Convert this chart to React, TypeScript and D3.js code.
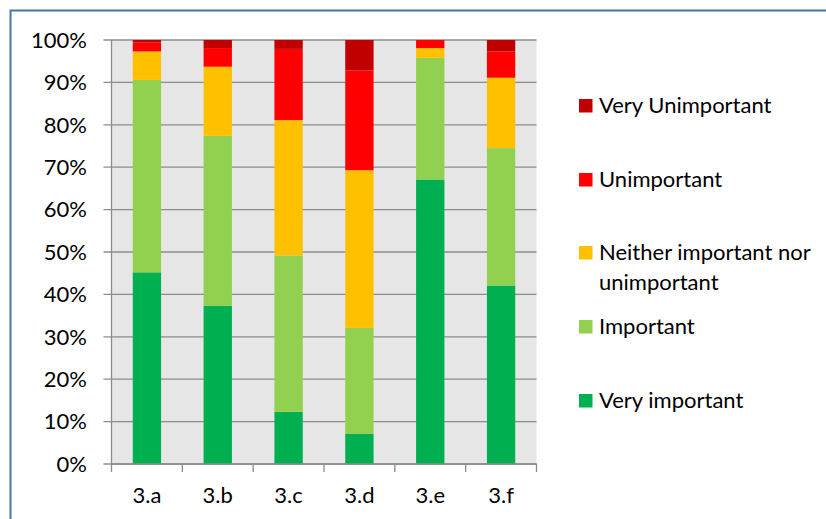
import React from "react";
import * as d3 from "d3";

const categories = ["3.a", "3.b", "3.c", "3.d", "3.e", "3.f"];
const seriesNames = [
  "Very important",
  "Important",
  "Neither important nor unimportant",
  "Unimportant",
  "Very Unimportant",
];
const veryImportant = [45.2, 37.3, 12.3, 7.1, 67.1, 42.1];
const important = [45.4, 40.1, 36.9, 25.0, 28.7, 32.4];
const neither = [6.7, 16.3, 31.9, 37.2, 2.3, 16.6];
const unimportant = [2.1, 4.4, 16.8, 23.5, 1.9, 6.2];
const veryUnimportant = [0.6, 1.9, 2.1, 7.2, 0.0, 2.7];
const colors = ["#00B050", "#92D050", "#FFC000", "#FF0000", "#C00000"];
const yTicks = [0, 10, 20, 30, 40, 50, 60, 70, 80, 90, 100];

const W = 826;
const H = 519;
const plot = { left: 111.5, right: 536.5, top: 40, bottom: 464 };
const FONT = "Lato, 'Open Sans', sans-serif";
const FS = 22;

export default function App() {
  const seriesValues = [veryImportant, important, neither, unimportant, veryUnimportant];
  const rows = categories.map((c, i) => {
    const r: any = { cat: c };
    seriesNames.forEach((s, k) => (r[s] = seriesValues[k][i]));
    return r;
  });
  const stack = d3.stack<any>().keys(seriesNames)(rows);

  const x = d3
    .scaleBand<string>()
    .domain(categories)
    .range([plot.left, plot.right])
    .paddingInner(0.6)
    .paddingOuter(0.3);
  const y = d3.scaleLinear().domain([0, 100]).range([plot.bottom, plot.top]);
  const step = x.step();
  const catEdges = d3.range(categories.length + 1).map((i) => plot.left + i * step);

  const legendOrder = [4, 3, 2, 1, 0];
  const legendY = [113, 187, 260, 334, 408];

  return (
    <svg
      width={W}
      height={H}
      style={{ position: "absolute", left: 0, top: 0, background: "#fff" }}
      fontFamily={FONT}
    >
      <rect x={0} y={0} width={W} height={H} fill="#fff" />
      <rect x={plot.left} y={plot.top} width={plot.right - plot.left} height={plot.bottom - plot.top} fill="#E6E6E6" />
      {yTicks.map((t) => (
        <line key={"g" + t} x1={plot.left - 8} x2={plot.right} y1={y(t)} y2={y(t)} stroke="#8C8C8C" strokeWidth={1.3} />
      ))}
      {stack.map((layer, k) => (
        <g key={layer.key} fill={colors[k]}>
          {layer.map((d, i) => (
            <rect
              key={i}
              x={x(categories[i])!}
              y={y(d[1])}
              width={x.bandwidth()}
              height={Math.max(0, y(d[0]) - y(d[1]))}
            />
          ))}
        </g>
      ))}
      <line x1={plot.left} x2={plot.left} y1={plot.top} y2={plot.bottom} stroke="#8C8C8C" strokeWidth={1.3} />
      <line x1={plot.left} x2={plot.right} y1={plot.bottom} y2={plot.bottom} stroke="#8C8C8C" strokeWidth={1.3} />
      {catEdges.map((e, i) => (
        <line key={"ct" + i} x1={e} x2={e} y1={plot.bottom} y2={plot.bottom + 8} stroke="#8C8C8C" strokeWidth={1.3} />
      ))}
      {yTicks.map((t) => (
        <text key={"yl" + t} x={87} y={y(t)} dy="0.35em" textAnchor="end" fontSize={FS} fill="#000">
          {t + "%"}
        </text>
      ))}
      {categories.map((c) => (
        <text key={"xl" + c} x={x(c)! + x.bandwidth() / 2} y={503} textAnchor="middle" fontSize={FS} fill="#000">
          {c}
        </text>
      ))}
      {legendOrder.map((k, j) => {
        const name = seriesNames[k];
        const lines = k === 2 ? ["Neither important nor", "unimportant"] : [name];
        return (
          <g key={"lg" + k}>
            <rect x={579} y={legendY[j] - 14} width={13.5} height={13.5} fill={colors[k]} />
            {lines.map((ln, li) => (
              <text key={li} x={599} y={legendY[j] + li * 29.5} fontSize={FS} fill="#000">
                {ln}
              </text>
            ))}
          </g>
        );
      })}
      <path d={`M10.5,${H + 5} V10.5 H${W + 5}`} fill="none" stroke="#4674AE" strokeWidth={2} />
    </svg>
  );
}
